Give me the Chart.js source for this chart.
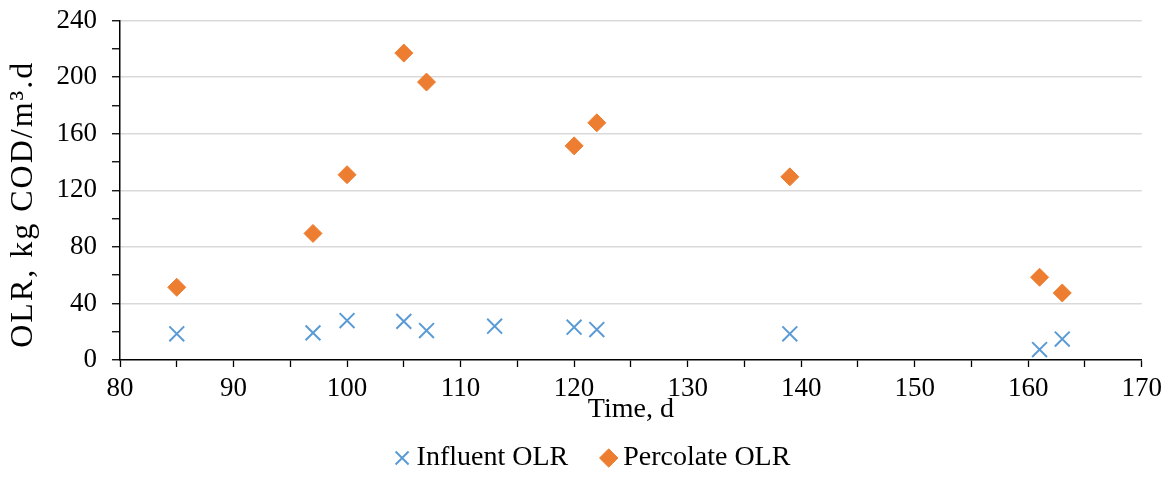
<!DOCTYPE html>
<html>
<head>
<meta charset="utf-8">
<script src="https://cdn.jsdelivr.net/npm/chart.js@4.4.1/dist/chart.umd.min.js"></script>
<style>
  html, body { margin: 0; padding: 0; background: #fff; }
  #wrap { width: 1170px; height: 497px; }
</style>
</head>
<body>
<div id="wrap"><canvas id="c" width="1170" height="497"></canvas></div>
<script>
// Sampling days (d) and organic loading rates (kg COD/m3.d)
const influentDays = [85, 97, 100, 105, 107, 113, 120, 122, 139, 161, 163];
const influentOLR  = [18.5, 19.2, 27.9, 27.3, 20.8, 23.9, 23.2, 21.5, 18.5, 7.4, 14.8];

const percolateDays = [85, 97, 100, 105, 107, 120, 122, 139, 161, 163];
const percolateOLR  = [51.4, 89.5, 131, 217, 196.5, 151.4, 167.7, 129.5, 58.5, 47.4];

const xTicks = [80, 90, 100, 110, 120, 130, 140, 150, 160, 170];
const yTicks = [0, 40, 80, 120, 160, 200, 240];

const seriesNames = ['Influent OLR', 'Percolate OLR'];

const toPoints = (xs, ys) => xs.map((x, i) => ({ x: x, y: ys[i] }));

const SERIF = "'Liberation Serif', 'Times New Roman', serif";
const X_TICK_FONT = { family: SERIF, size: 27, lineHeight: 1 };
const Y_TICK_FONT = { family: SERIF, size: 27, lineHeight: 0.41 };
const TEXT_FONT = { family: SERIF, size: 28, lineHeight: 1 };

// Moves the legend row to the right and gives the y-axis title a little letter spacing
const layoutTweaks = {
  id: 'layoutTweaks',
  afterLayout(chart) {
    const lg = chart.legend;
    if (lg) { lg.left += 25; lg.right += 25; }
    const ys = chart.scales.y;
    if (ys && !ys._spacedTitle) {
      const drawTitle = ys.drawTitle;
      ys.drawTitle = function () {
        const ctx = this.ctx;
        ctx.save();
        ctx.letterSpacing = '2px';
        ctx.translate(0, 14);
        drawTitle.call(this);
        ctx.restore();
      };
      ys._spacedTitle = true;
    }
  }
};

new Chart(document.getElementById('c'), {
  type: 'scatter',
  plugins: [layoutTweaks],
  data: {
    datasets: [
      {
        label: seriesNames[0],
        data: toPoints(influentDays, influentOLR),
        pointStyle: 'crossRot',
        pointRadius: 10.5,
        pointHoverRadius: 10.5,
        borderColor: '#5B9BD5',
        backgroundColor: '#5B9BD5',
        pointBorderWidth: 2
      },
      {
        label: seriesNames[1],
        data: toPoints(percolateDays, percolateOLR),
        pointStyle: 'rectRot',
        pointRadius: 9,
        pointHoverRadius: 9,
        borderColor: '#ED7D31',
        backgroundColor: '#ED7D31',
        pointBorderWidth: 1
      }
    ]
  },
  options: {
    responsive: false,
    animation: false,
    events: [],
    layout: { padding: { left: 0, right: 28, top: 0, bottom: 15 } },
    plugins: {
      tooltip: { enabled: false },
      legend: {
        position: 'bottom',
        labels: {
          usePointStyle: true,
          boxWidth: 1,
          boxHeight: 13,
          padding: 40,
          color: '#000',
          font: TEXT_FONT
        }
      }
    },
    scales: {
      x: {
        type: 'linear',
        min: xTicks[0],
        max: xTicks[xTicks.length - 1],
        afterBuildTicks: (scale) => {
          const t = [];
          for (let v = xTicks[0]; v <= xTicks[xTicks.length - 1]; v += 5) t.push({ value: v });
          scale.ticks = t;
        },
        afterFit: (scale) => { scale.height = 44; },
        ticks: {
          autoSkip: false,
          maxRotation: 0,
          padding: 8,
          color: '#000',
          font: X_TICK_FONT,
          callback: (v) => (xTicks.includes(v) ? String(v) : '')
        },
        grid: {
          drawOnChartArea: false,
          drawTicks: true,
          tickLength: 7,
          tickColor: '#000',
          tickWidth: 1.3
        },
        border: { color: '#000', width: 1.5 },
        title: {
          display: true,
          text: 'Time, d',
          color: '#000',
          font: TEXT_FONT,
          padding: { top: 0, bottom: -20 }
        }
      },
      y: {
        type: 'linear',
        min: yTicks[0],
        max: yTicks[yTicks.length - 1],
        afterBuildTicks: (scale) => {
          const t = [];
          for (let v = yTicks[0]; v <= yTicks[yTicks.length - 1]; v += 20) t.push({ value: v });
          scale.ticks = t;
        },
        afterFit: (scale) => { scale.width = 120; },
        ticks: {
          autoSkip: false,
          padding: 15,
          color: '#000',
          font: Y_TICK_FONT,
          callback: (v) => (yTicks.includes(v) ? String(v) : '')
        },
        grid: {
          color: (ctx) => (ctx.tick && yTicks.includes(ctx.tick.value) && ctx.tick.value !== 0 ? '#D9D9D9' : 'rgba(0,0,0,0)'),
          lineWidth: 1.5,
          drawTicks: true,
          tickLength: 8,
          tickColor: '#000',
          tickWidth: 1.3
        },
        border: { color: '#000', width: 1.5 },
        title: {
          display: true,
          text: 'OLR, kg COD/m³.d',
          color: '#000',
          font: { family: SERIF, size: 32, lineHeight: 1.2 },
          padding: { top: 4, bottom: 0 }
        }
      }
    }
  }
});
</script>
</body>
</html>
